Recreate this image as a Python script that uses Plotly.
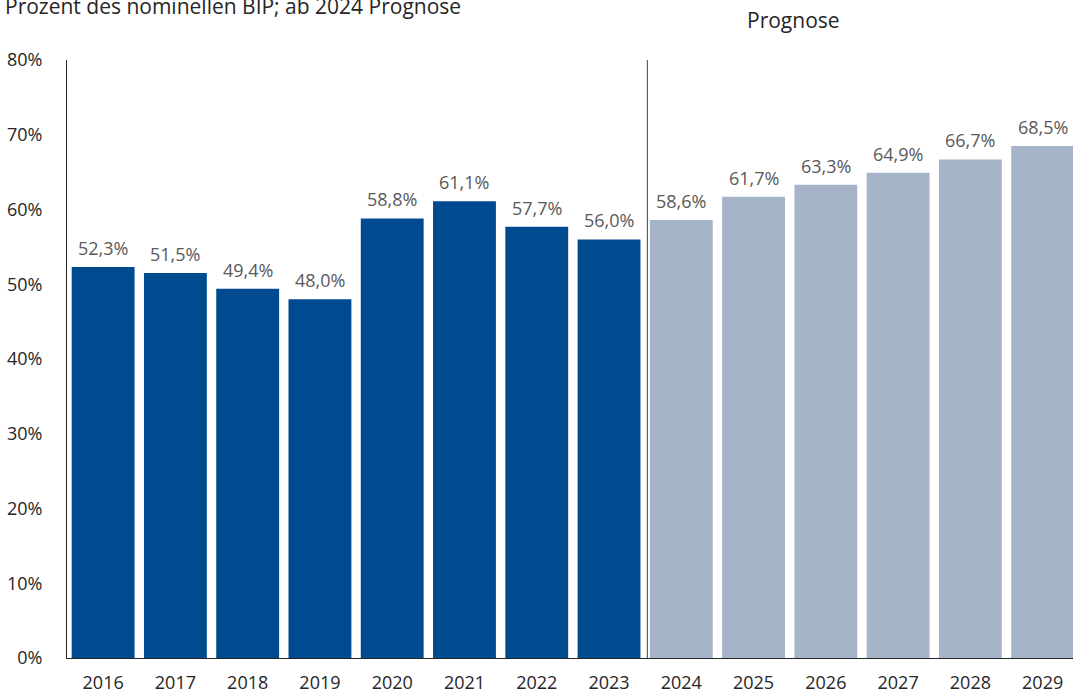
import plotly.graph_objects as go

years = ["2016", "2017", "2018", "2019", "2020", "2021", "2022", "2023",
         "2024", "2025", "2026", "2027", "2028", "2029"]
values = [52.3, 51.5, 49.4, 48.0, 58.8, 61.1, 57.7, 56.0,
          58.6, 61.7, 63.3, 64.9, 66.7, 68.5]
forecast_from = "2024"
y_ticks = [0, 10, 20, 30, 40, 50, 60, 70, 80]
subtitle = "Prozent des nominellen BIP; ab 2024 Prognose"
forecast_label = "Prognose"

DARK = "#004B8F"
LIGHT = "#A6B4CA"
FONT = "Open Sans"

fi = years.index(forecast_from)
colors = [DARK if i < fi else LIGHT for i in range(len(years))]
labels = [f"{v:.1f}".replace(".", ",") + "%" for v in values]

fig = go.Figure()
fig.add_trace(go.Bar(
    x=list(range(len(years))), y=values,
    marker=dict(color=colors, line=dict(width=0)),
    hoverinfo="skip", showlegend=False,
))

W, H = 1073, 694
ml, mr, mt, mb = 67, 0, 60, 36
ph = H - mt - mb
pw = W - ml - mr

annotations = []
for i, (v, lab) in enumerate(zip(values, labels)):
    annotations.append(dict(
        x=i, y=v, xref="x", yref="y", text=lab, showarrow=False,
        yanchor="bottom", yshift=5,
        font=dict(family=FONT, size=18, color="#595959"),
    ))
annotations.append(dict(
    x=(3 - ml) / pw, y=1 + (mt - 6) / ph, xref="paper", yref="paper",
    text=subtitle, showarrow=False, xanchor="left", yanchor="middle",
    font=dict(family=FONT, size=21, color="#262626"),
))
annotations.append(dict(
    x=fi + 1.55, y=1 + (mt - 20) / ph, xref="x", yref="paper",
    text=forecast_label, showarrow=False, xanchor="center", yanchor="middle",
    font=dict(family=FONT, size=21, color="#262626"),
))

fig.update_layout(
    width=W, height=H,
    margin=dict(l=ml, r=mr, t=mt, b=mb, pad=0, autoexpand=False),
    plot_bgcolor="white", paper_bgcolor="white",
    bargap=0.13,
    font=dict(family=FONT, size=18, color="#262626"),
    annotations=annotations,
    shapes=[dict(type="line", xref="x", yref="paper",
                 x0=fi - 0.47, x1=fi - 0.47, y0=0, y1=1,
                 line=dict(color="#404040", width=1))],
    xaxis=dict(
        range=[-0.5, 13.42], tickvals=list(range(len(years))), ticktext=years,
        showline=True, linecolor="#262626", linewidth=1,
        showgrid=False, zeroline=False, ticks="", ticklabelstandoff=8,
        tickfont=dict(family=FONT, size=18, color="#262626"),
        fixedrange=True, automargin=False,
    ),
    yaxis=dict(
        range=[0, 80], tickvals=y_ticks,
        ticktext=[f"{t}%" for t in y_ticks],
        showline=True, linecolor="#262626", linewidth=1,
        showgrid=False, zeroline=False, ticks="", ticklabelstandoff=20,
        tickfont=dict(family=FONT, size=18, color="#262626"),
        fixedrange=True, automargin=False,
    ),
)

fig.write_html("out.html", config={"displayModeBar": False},
               post_script="document.body.style.margin='0';")
